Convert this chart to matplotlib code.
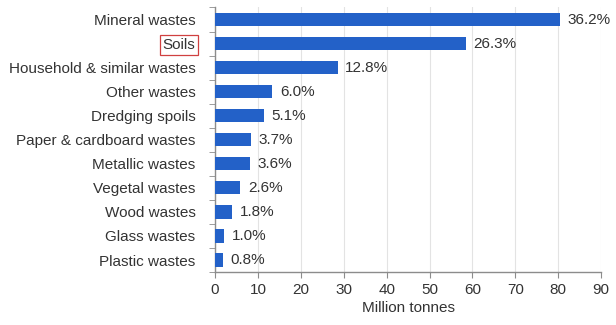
import matplotlib
matplotlib.use("Agg")
import matplotlib.pyplot as plt
import numpy as np

# data (million tonnes, share of total)
categories = ["Mineral wastes", "Soils", "Household & similar wastes", "Other wastes",
              "Dredging spoils", "Paper & cardboard wastes", "Metallic wastes",
              "Vegetal wastes", "Wood wastes", "Glass wastes", "Plastic wastes"]
tonnes = [80.4, 58.5, 28.6, 13.4, 11.4, 8.3, 8.1, 5.9, 4.0, 2.2, 1.9]
shares = ["36.2%", "26.3%", "12.8%", "6.0%", "5.1%", "3.7%", "3.6%",
          "2.6%", "1.8%", "1.0%", "0.8%"]
xticks = [0, 10, 20, 30, 40, 50, 60, 70, 80, 90]

plt.rcParams['font.family'] = ['Liberation Sans', 'DejaVu Sans']
text_col = '#333333'
axis_col = '#8c8c8c'
fs = 11

fig = plt.figure(figsize=(6.16, 3.25), dpi=100)
ax = fig.add_axes([0.349, 0.163, 0.627, 0.814])

y = np.arange(len(categories))
ax.barh(y, tonnes, height=0.55, color='#2361c8', zorder=3)

# percentage labels at bar ends
for yi, v, s in zip(y, tonnes, shares):
    ax.annotate(s, (v, yi), xytext=(5.5, 0), textcoords='offset points',
                va='center', ha='left', fontsize=fs, color=text_col)

ax.set_xlim(0, 90)
ax.set_ylim(len(categories) - 0.5, -0.5)
ax.set_xticks(xticks)
ax.set_yticks(y)
ax.set_yticklabels(categories)
ax.set_yticks(np.arange(-0.5, len(categories)), minor=True)

ax.tick_params(axis='y', which='major', length=0, pad=14, labelsize=fs, labelcolor=text_col)
ax.tick_params(axis='y', which='minor', length=4, color=axis_col, direction='out')
ax.tick_params(axis='x', length=4, color=axis_col, labelsize=fs, labelcolor=text_col, pad=4)

ax.grid(axis='x', color='#e3e3e3', linewidth=0.8, zorder=0)
for side in ['top', 'right']:
    ax.spines[side].set_visible(False)
for side in ['left', 'bottom']:
    ax.spines[side].set_color(axis_col)
    ax.spines[side].set_linewidth(1.0)

ax.set_xlabel("Million tonnes", fontsize=fs, color=text_col, labelpad=3)

# red frame around the Soils label
for lbl in ax.get_yticklabels():
    if lbl.get_text() == "Soils":
        lbl.set_bbox(dict(facecolor='none', edgecolor='#d04040', linewidth=0.9, pad=2))

fig.savefig("out.png", dpi=100)
